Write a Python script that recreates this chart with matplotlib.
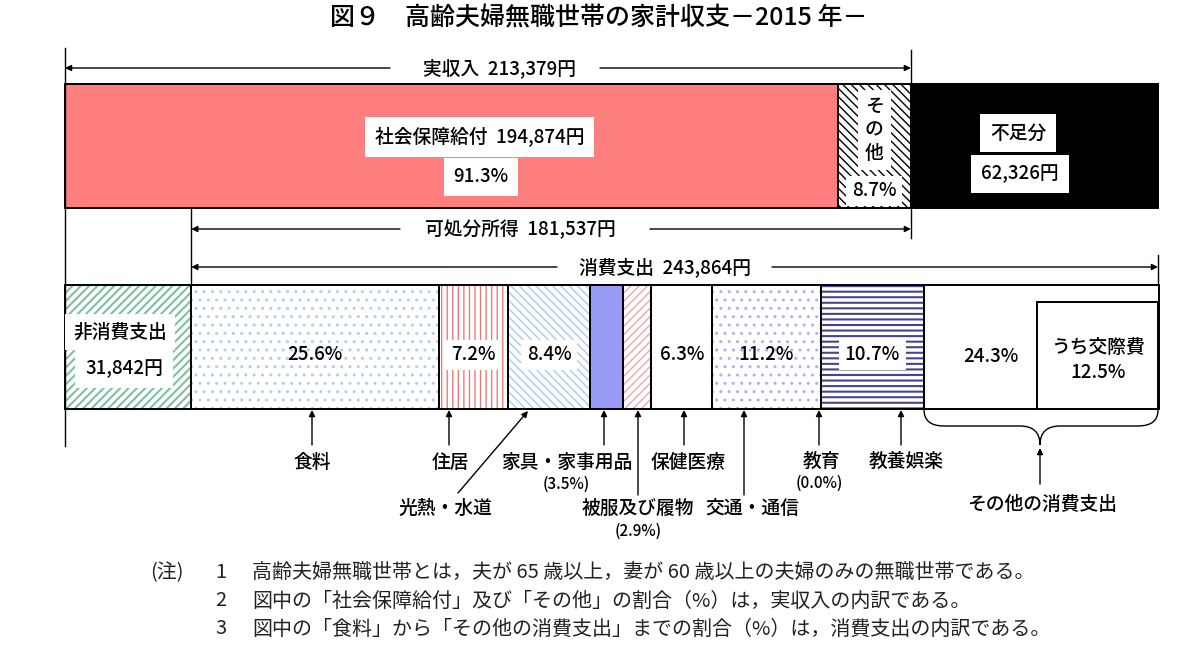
import numpy as np
import matplotlib.pyplot as plt
from matplotlib.path import Path
from matplotlib.patches import PathPatch

plt.rcParams['font.family'] = ['Noto Sans CJK JP', 'DejaVu Sans']
plt.rcParams['font.weight'] = 'medium'
plt.rcParams['hatch.linewidth'] = 1.0

# --- data (yen / percent) ---
income_labels = ['社会保障給付', 'その他', '不足分']
income_values = [194874, 18505, 62326]
income_pct = [91.3, 8.7]
real_income = 213379
disposable_income = 181537
non_consumption = 31842
consumption = 243864

cons_labels = ['食料', '住居', '光熱・水道', '家具・家事用品', '被服及び履物',
               '保健医療', '交通・通信', '教育', '教養娯楽', 'その他の消費支出']
cons_pct = [25.6, 7.2, 8.4, 3.5, 2.9, 6.3, 11.2, 0.0, 10.7, 24.3]
social_pct = 12.5  # うち交際費

# --- layout: pixel mapping ---
X0, X1 = 65, 1158
total = sum(income_values)
K = (X1 - X0) / total


def P(xpix):
    return (xpix - X0) / K


fig = plt.figure(figsize=(12, 6.68), dpi=100)
ax = fig.add_axes([0, 0, 1, 1])
ax.axis('off')
ax.set_xlim(P(0), P(1200))
ax.set_ylim(668, 0)

FS = 13.5
SM = 11


def wbox(pad):
    return dict(facecolor='white', edgecolor='none', pad=pad)


fig.text(0.499, 1 - 18 / 668, '図９　高齢夫婦無職世帯の家計収支－2015 年－',
         ha='center', va='center', fontsize=18)

# top bar
ytop, h = 146, 124
lefts = np.concatenate([[0], np.cumsum(income_values)[:-1]])
ax.barh(ytop, income_values[0], left=lefts[0], height=h, color='#ff7f7f',
        edgecolor='black', lw=1.4)
ax.barh(ytop, income_values[1], left=lefts[1], height=h, facecolor='white',
        edgecolor='black', lw=1.4, hatch='\\\\\\\\')
ax.barh(ytop, income_values[2], left=lefts[2], height=h, color='black',
        edgecolor='black', lw=1.4)

ax.text(P(480), 137, f'{income_labels[0]}  {income_values[0]:,}円',
        ha='center', va='center', fontsize=FS, bbox=wbox(7))
ax.text(P(481), 177, f'{income_pct[0]}%', ha='center', va='center',
        fontsize=FS, bbox=wbox(7))
cx = lefts[1] + income_values[1] / 2
ax.text(cx, 130, '\n'.join(income_labels[1]), ha='center', va='center',
        fontsize=FS, linespacing=1.3, bbox=wbox(5))
ax.text(cx, 191, f'{income_pct[1]}%', ha='center', va='center',
        fontsize=FS, bbox=wbox(4))
ax.text(P(1018), 133, income_labels[2], ha='center', va='center',
        fontsize=FS, bbox=wbox(7))
ax.text(P(1020), 174, f'{income_values[2]:,}円', ha='center', va='center',
        fontsize=FS, bbox=wbox(7))

# bottom bar
ybot = 347
nb = ax.barh(ybot, non_consumption, left=0, height=h, facecolor='white',
             edgecolor='#7cc2a0', lw=0, hatch='////')
for b in nb:
    try:
        b.set_hatch_linewidth(1.5)
    except AttributeError:
        pass
ax.barh(ybot, non_consumption, left=0, height=h, fill=False,
        edgecolor='black', lw=1.4)
ax.text(P(120), 332, '非消費支出', ha='center', va='center', fontsize=FS,
        bbox=wbox(6))
ax.text(P(124), 369, f'{non_consumption:,}円', ha='center', va='center',
        fontsize=FS, bbox=wbox(7))

styles = [
    ('#b3cdea', '..', 1.0),
    ('#f07a7a', '|||', 1.0),
    ('#a9cde9', '\\\\\\\\', 1.0),
    (None, None, None),
    ('#f4a4a4', '////', 1.0),
    (None, None, None),
    ('#b4adf0', '..', 1.0),
    (None, None, None),
    ('#45458f', '---', 1.5),
    (None, None, None),
]
widths = [p / 100 * consumption for p in cons_pct]
cl = non_consumption + np.concatenate([[0], np.cumsum(widths)[:-1]])
for w, l, (hc, hp, hl) in zip(widths, cl, styles):
    if hp is not None:
        bars = ax.barh(ybot, w, left=l, height=h, facecolor='white',
                       edgecolor=hc, lw=0, hatch=hp)
        for b in bars:
            try:
                b.set_hatch_linewidth(hl)
            except AttributeError:
                pass
    ax.barh(ybot, w, left=l, height=h, fill=False, edgecolor='black', lw=1.4)
ax.barh(ybot, widths[3], left=cl[3], height=h, color='#9a9af7',
        edgecolor='black', lw=1.4)

# うち交際費 box
sw = social_pct / 100 * consumption
ax.barh(ybot + 0.5 * (302 - 285), sw, left=total - sw, height=h - (302 - 285),
        fill=False, edgecolor='black', lw=1.4)
ax.text(total - sw / 2, 360, f'うち交際費\n{social_pct}%', ha='center',
        va='center', fontsize=FS, linespacing=1.45)

pct_with_box = {1, 2, 8}
for i, (w, l, p) in enumerate(zip(widths, cl, cons_pct)):
    if w < P(100) - P(65) or i == 9:
        continue
    ax.text(l + w / 2, 355, f'{p}%', ha='center', va='center', fontsize=FS,
            bbox=wbox(4) if i in pct_with_box else None)
ax.text(P(991), 357, f'{cons_pct[9]}%', ha='center', va='center', fontsize=FS)

# guide lines
lk = dict(color='black', lw=1.0)
ax.plot([0, 0], [48, 446], **lk)
ax.plot([real_income, real_income], [50, 238], **lk)
ax.plot([non_consumption, non_consumption], [208, 285], **lk)
ax.plot([total, total], [255, 285], **lk)

ap = dict(arrowstyle='-|>', lw=1.0, color='black', mutation_scale=9,
          shrinkA=0, shrinkB=0)


def span(x0, x1, y, text, tx, gl, gr):
    ax.annotate('', xy=(x0, y), xytext=(P(gl), y), arrowprops=ap)
    ax.annotate('', xy=(x1, y), xytext=(P(gr), y), arrowprops=ap)
    ax.text(P(tx), y, text, ha='center', va='center', fontsize=FS)


span(0, real_income, 68, f'実収入  {real_income:,}円', 500, 390, 600)
span(non_consumption, real_income, 229, f'可処分所得  {disposable_income:,}円',
     520, 400, 650)
span(non_consumption, total, 267, f'消費支出  {consumption:,}円', 665, 557, 772)

# pointers below the bar
pointers = [
    # category index, arrow x, arrow start y, label x, label y, note position
    (0, 312, 445, 312, 462, None),
    (1, 449, 445, 450, 462, None),
    (3, 604, 445, 567, 462, (566, 484)),
    (4, 638, 495, 638, 508, (638, 531)),
    (5, 684, 445, 688, 462, None),
    (6, 744, 495, 752, 508, None),
    (7, 819, 445, 821, 461, (819, 483)),
    (8, 901, 445, 906, 461, None),
]
for i, ax_x, ys, lx, ly, note in pointers:
    ax.annotate('', xy=(P(ax_x), 410), xytext=(P(ax_x), ys), arrowprops=ap)
    ax.text(P(lx), ly, cons_labels[i], ha='center', va='center', fontsize=FS)
    if note:
        ax.text(P(note[0]), note[1], f'({cons_pct[i]}%)', ha='center',
                va='center', fontsize=SM)

ax.annotate('', xy=(P(528), 411), xytext=(P(458), 493), arrowprops=ap)
ax.text(P(445), 508, cons_labels[2], ha='center', va='center', fontsize=FS)

# brace under その他の消費支出
bl, br = cl[9], total
bm = P(1040)
d = P(945) - P(925)
verts = [(bl, 410), (bl, 426), (bl + d, 426),
         (bm - d, 426),
         (bm, 426), (bm, 445), (bm, 426),
         (bm + d, 426), (br - d, 426),
         (br, 426), (br, 410)]
codes = [Path.MOVETO, Path.CURVE3, Path.CURVE3, Path.LINETO,
         Path.CURVE3, Path.CURVE3, Path.CURVE3, Path.CURVE3, Path.LINETO,
         Path.CURVE3, Path.CURVE3]
ax.add_patch(PathPatch(Path(verts, codes), fill=False, lw=1.0))
ax.annotate('', xy=(bm, 448), xytext=(bm, 484), arrowprops=ap)
ax.text(P(1042), 504, cons_labels[9], ha='center', va='center', fontsize=FS)

# notes
notes = [
    '高齢夫婦無職世帯とは，夫が 65 歳以上，妻が 60 歳以上の夫婦のみの無職世帯である。',
    '図中の「社会保障給付」及び「その他」の割合（%）は，実収入の内訳である。',
    '図中の「食料」から「その他の消費支出」までの割合（%）は，消費支出の内訳である。',
]
NF = 14.4
fig.text(150 / 1200, 1 - 573 / 668, '(注)', ha='left', va='center',
         fontsize=NF, color='#222222', fontweight='normal')
for j, n in enumerate(notes):
    y = 1 - (573 + 28 * j) / 668
    fig.text(215 / 1200, y, str(j + 1), ha='left', va='center', fontsize=NF,
             color='#222222', fontweight='normal')
    fig.text(252 / 1200, y, n, ha='left', va='center', fontsize=NF,
             color='#222222', fontweight='normal')

fig.savefig('out.png', dpi=100)
